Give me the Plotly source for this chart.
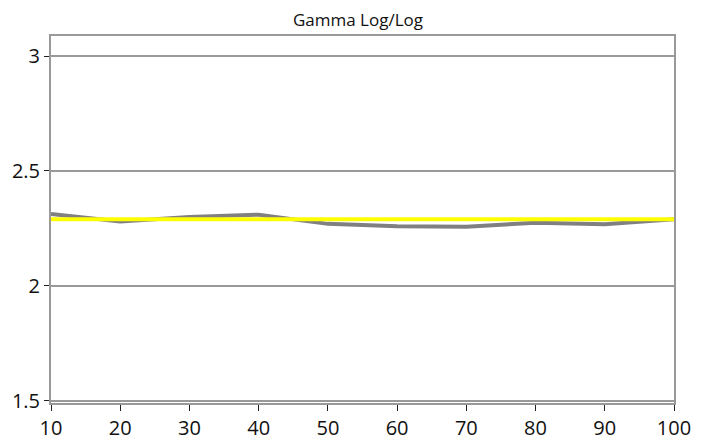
import plotly.graph_objects as go

levels = [10, 20, 30, 40, 50, 60, 70, 80, 90, 100]
gamma_measured = [2.313, 2.28, 2.30, 2.31, 2.27, 2.26, 2.258, 2.275, 2.268, 2.29]
gamma_target = [2.29] * len(levels)

x_ticks = [10, 20, 30, 40, 50, 60, 70, 80, 90, 100]
y_ticks = [1.5, 2, 2.5, 3]

fig = go.Figure()
fig.add_trace(go.Scatter(x=levels, y=gamma_measured, mode="lines",
                         line=dict(color="#808080", width=4), showlegend=False))
fig.add_trace(go.Scatter(x=levels, y=gamma_target, mode="lines",
                         line=dict(color="#ffff00", width=4), showlegend=False))

# page body has an 8px margin, so the figure is a bit smaller and shifted
fig.update_layout(
    width=700, height=432,
    margin=dict(l=43, r=34, t=28, b=37),
    paper_bgcolor="white", plot_bgcolor="white",
    title=dict(text="Gamma Log/Log", x=0.5, xanchor="center", y=0.972, yanchor="middle",
               font=dict(family="Open Sans", size=17, color="#111")),
    font=dict(family="Open Sans", size=20, color="#111"),
)
fig.update_xaxes(range=[10, 100], tickvals=x_ticks, showgrid=False, zeroline=False,
                 showline=True, linecolor="#999", linewidth=2, mirror=True,
                 ticks="outside", ticklen=6, tickcolor="#222", tickwidth=1,
                 automargin=False)
fig.update_yaxes(range=[1.491, 3.087], tickvals=y_ticks, ticktext=["1.5", "2", "2.5", "3"],
                 showgrid=True, gridcolor="#999", gridwidth=2, zeroline=False,
                 showline=True, linecolor="#999", linewidth=2, mirror=True,
                 ticks="outside", ticklen=5, tickcolor="#222", tickwidth=1,
                 automargin=False)

fig.write_html("out.html")
